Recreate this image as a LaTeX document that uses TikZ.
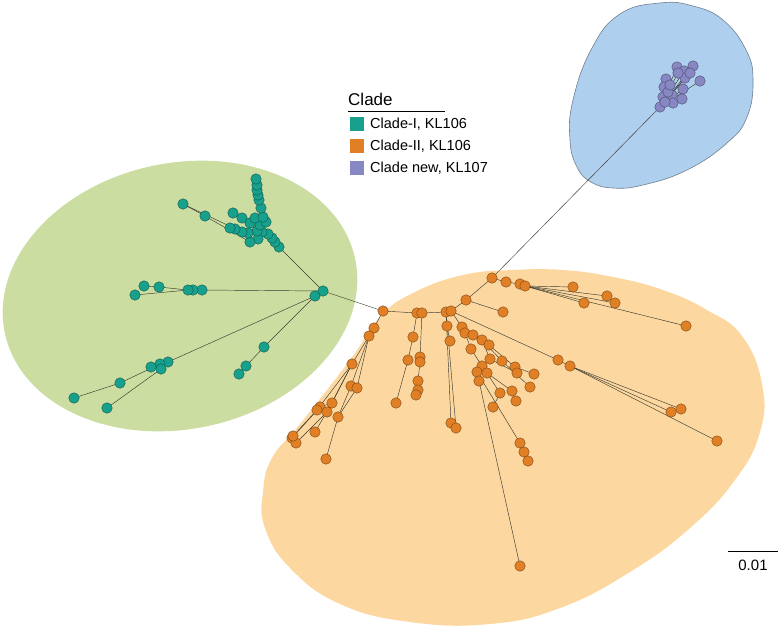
\documentclass[tikz,border=0pt]{standalone}
\usepackage{fontspec}
\setmainfont{Liberation Sans}
\usepackage{tikz}
\definecolor{cladeteal}{HTML}{17A08C}
\definecolor{cladeorange}{HTML}{E07F24}
\definecolor{cladeviolet}{HTML}{8787C4}
\definecolor{blobgreen}{HTML}{CCDDA1}
\definecolor{bloborange}{HTML}{FCD8A0}
\definecolor{blobblue}{HTML}{AED0EE}
\definecolor{blobline}{HTML}{6F7F8F}
\definecolor{branchgray}{HTML}{3C3A30}
\pgfdeclarelayer{blobs}
\pgfdeclarelayer{branches}
\pgfsetlayers{blobs,branches,main}
\tikzset{
  dot/.style={circle,line width=0.4pt,minimum size=10.5pt,inner sep=0pt},
  tealdot/.style={dot,draw=cladeteal!55!black,fill=cladeteal},
  orangedot/.style={dot,draw=cladeorange!55!black,fill=cladeorange},
  violetdot/.style={dot,draw=cladeviolet!55!black,fill=cladeviolet},
  branch/.style={draw=branchgray,line width=0.45pt},
  swatch/.style={minimum size=14pt,inner sep=0pt},
  legtext/.style={anchor=west,inner sep=0pt,font=\fontsize{14.5}{17}\selectfont}
}
\begin{document}
\begin{tikzpicture}[x=1pt,y=-1pt]
  \useasboundingbox (0,0) rectangle (780,625);
  % Clade areas
  \begin{pgfonlayer}{blobs}
    \fill[blobgreen,rotate around={12:(180,296)}] (180,296) ellipse [x radius=179,y radius=133];
    \fill[bloborange] plot[smooth cycle,tension=0.75] coordinates {
      (380,317) (413,293) (463,275) (513,270) (563,270) (613,277) (663,290)
      (707,310) (742,336) (762,384) (760,432) (735,480) (690,528) (630,572)
      (560,608) (490,624) (410,622) (340,604) (290,568) (265,528) (263,492)
      (272,458) (300,424) (350,360)};
    \filldraw[fill=blobblue,draw=blobline,line width=0.6pt] plot[smooth cycle,tension=0.75] coordinates {
      (660,3) (693,6) (723,20) (746,50) (753,80) (747,117) (727,143) (687,170)
      (643,185) (613,188) (591,182) (577,167) (570,140) (573,100) (592,48) (620,14)};
  \end{pgfonlayer}
  % Clade-I tips
  \foreach \n/\x/\y in {ga/323/291,gb/315/296,
      gt1/279/247,gt2/275/242,gt3/272/238,gt4/268/234,gt5/262/232,gt6/258/239,
      gt7/250/242,gt8/257/231,gt9/248/233,gt10/242/232,gt11/235/229,gt12/230/228,
      gt13/260/225,gt14/250/223,gt15/255/218,gt16/242/218,gt17/233/213,gt18/266/222,
      gt19/263/217,gt20/261/208,gt21/259/200,gt22/258/195,gt23/257/190,gt24/257/185,
      gt25/256/179,gt26/205/216,gt27/183/204,
      gm1/202/290,gm2/193/290,gm3/188/290,gm4/159/287,gm5/144/286,gm6/135/295,
      gl1/168/362,gl2/160/364,gl3/161/369,gl4/151/367,gl5/120/383,gl6/74/398,gl7/107/408,
      gd1/264/347,gd2/246/366,gd3/239/374}
    \node[tealdot] (\n) at (\x,\y) {};
  % Clade-II tips
  \foreach \n/\x/\y in {oA/383/311,oB1/417/313,oB2/422/313,oC1/446/312,oC2/451/311,
      oD/466/300,oE/492/278,oE1/506/282,oE2/520/284,oE3/525/286,oE4/573/287,
      oE5/607/296,oE6/615/303,oE7/584/303,oE8/686/326,oD1/503/312,
      oa1/374/328,oa2/369/336,oa3/352/364,oa4/351/386,oa5/357/388,oa6/332/403,
      oa7/320/407,oa8/317/410,oa9/327/412,oa10/338/417,oa11/315/432,oa12/292/438,
      oa13/296/443,oa14/293/436,oa15/326/459,
      ob1/413/337,ob2/408/360,ob3/420/357,ob4/420/362,ob5/418/381,ob6/418/390,
      ob7/416/395,ob8/396/403,
      oc1/447/326,oc2/450/341,oc3/451/423,oc4/456/428,
      od1/462/327,od2/465/333,od3/473/335,od4/482/340,od5/489/345,od6/471/349,
      od7/490/359,od8/502/361,od9/515/367,od10/517/373,od11/534/374,od12/530/387,
      od13/512/391,od14/516/401,od15/500/393,od16/493/407,od17/482/366,od18/477/372,
      od19/487/373,od20/479/381,od21/520/443,od22/524/452,od23/528/461,od24/520/566,
      oe1/558/360,oe2/570/366,oe3/681/409,oe4/671/412,oe5/717/441}
    \node[orangedot] (\n) at (\x,\y) {};
  % Clade new tips
  \foreach \n/\x/\y in {p1/677/67,p2/693/66,p3/684/71,p4/685/78,p5/700/81,p6/666/79,
      p7/664/87,p8/683/89,p9/663/97,p10/672/95,p11/682/99,p12/660/107,p13/673/103,
      p14/665/102,p15/678/73,p16/690/73,p17/668/92,p18/670/85}
    \node[violetdot] (\n) at (\x,\y) {};
  % Branches
  \begin{pgfonlayer}{branches}
    \foreach \a/\b in {ga/gb,ga/gt1,gt1/gt2,gt2/gt3,gt3/gt4,gt4/gt5,gt5/gt13,gt13/gt18,
        gt18/gt19,gt19/gt20,gt20/gt21,gt21/gt22,gt22/gt23,gt23/gt24,gt24/gt25,gt5/gt8,
        gt8/gt9,gt9/gt10,gt10/gt11,gt11/gt12,gt4/gt6,gt6/gt7,gt8/gt14,gt14/gt16,
        gt16/gt17,gt13/gt15,gt7/gt26,gt26/gt27,gt10/gt27,
        ga/gm1,gm1/gm2,gm2/gm3,gm3/gm4,gm4/gm5,gm3/gm6,
        gb/gl1,gl1/gl2,gl2/gl5,gl5/gl6,gl1/gl3,gl3/gl7,gl1/gl4,
        gb/gd1,gd1/gd2,gd2/gd3}
      \draw[branch] (\a.center) -- (\b.center);
    \foreach \a/\b in {ga/oA,oA/oB1,oB1/oB2,oB2/oC1,oC1/oC2,oC2/oD,oD/oE,oE/p12,oD/oD1,
        oE/oE1,oE1/oE2,oE2/oE3,oE3/oE4,oE3/oE5,oE3/oE6,oE3/oE7,oE3/oE8,
        oA/oa1,oa1/oa2,oa2/oa3,oa2/oa4,oa2/oa5,oa3/oa6,oa6/oa7,oa7/oa12,oa3/oa9,
        oa9/oa13,oa3/oa8,oa8/oa14,oa4/oa10,oa10/oa15,oa6/oa11,oa5/oa10,
        oB1/ob1,ob1/ob2,ob2/ob8,oB2/ob3,ob3/ob4,ob4/ob5,ob5/ob6,ob6/ob7,
        oC1/oc1,oc1/oc2,oC1/oc3,oC1/oc4,
        oC2/od1,od1/od2,od2/od3,od3/od4,od3/od5,od5/od9,od9/od11,od4/od7,od7/od10,
        od4/od8,od8/od12,od2/od6,od6/od17,od17/od18,od18/od20,od17/od19,od19/od13,
        od13/od14,od19/od15,od15/od16,od18/od21,od21/od22,od22/od23,od20/od24,
        oC2/oe1,oe1/oe2,oe2/oe3,oe2/oe4,oe2/oe5}
      \draw[branch] (\a.center) -- (\b.center);
    \foreach \b in {p1,p2,p3,p4,p5,p6,p7,p8,p9,p10,p11,p13,p14,p15,p16,p17,p18}
      \draw[branch] (p12.center) -- (\b.center);
  \end{pgfonlayer}
  % Legend
  \node[anchor=base west,inner sep=0pt,font=\fontsize{17}{20}\selectfont] (legtitle) at (348,105) {Clade};
  \draw[line width=0.6pt] (348,111) -- (445,111);
  \node[swatch,fill=cladeteal] (sw1) at (357,124) {};
  \node[legtext] (lab1) at (370,124) {Clade-I, KL106};
  \node[swatch,fill=cladeorange] (sw2) at (357,146) {};
  \node[legtext] (lab2) at (370,146) {Clade-II, KL106};
  \node[swatch,fill=cladeviolet] (sw3) at (357,168) {};
  \node[legtext] (lab3) at (370,168) {Clade new, KL107};
  % Scale bar
  \draw[line width=0.6pt] (728,551) -- (778,551);
  \node[font=\fontsize{15}{18}\selectfont,inner sep=0pt] (scalelab) at (753,565) {0.01};
\end{tikzpicture}
\end{document}
